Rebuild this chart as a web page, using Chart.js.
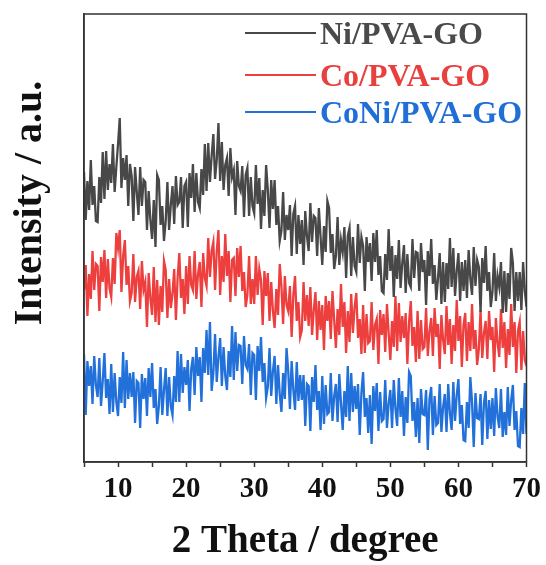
<!DOCTYPE html>
<html>
<head>
<meta charset="utf-8">
<script src="https://cdn.jsdelivr.net/npm/chart.js@4.4.1/dist/chart.umd.min.js"></script>
<style>
  body { margin: 0; background: #fff; }
  #wrap { width: 546px; height: 565px; position: relative; }
</style>
</head>
<body>
<div id="wrap"><canvas id="xrd"></canvas></div>
<script>
// 2 theta grid of the scans
const thetaStart = 5;
const thetaStep = 0.25;
const xTicks = [10, 20, 30, 40, 50, 60, 70];

const seriesNames = ['Ni/PVA-GO', 'Co/PVA-GO', 'CoNi/PVA-GO'];

// intensities (a.u., curves already offset)
const niPvaGo = [
  290,242,281,252, 302,257,276,241, 240,285,259,310, 263,311,272,298, 279,318,270,295,
  318,344,274,304, 282,307,256,298, 286,241,295,270, 247,295,256,282, 280,232,271,242,
  223,262,215,287, 282,237,256,221, 241,280,232,257, 276,238,286,257, 260,285,234,276,
  280,235,289,264, 298,250,289,260, 254,293,267,318, 271,319,280,306, 328,283,302,339,
  281,320,272,297, 304,266,314,285, 292,247,301,276, 271,296,245,287, 294,246,285,256,
  249,297,258,284, 233,272,246,297, 272,234,282,253, 282,237,256,221, 231,270,222,247,
  232,257,206,248, 256,208,247,218, 242,197,251,226, 211,259,220,246, 244,206,254,225,
  197,236,210,261, 254,209,228,193, 206,245,197,222, 210,235,184,226, 234,186,225,196,
  190,238,199,225, 216,171,225,200, 219,181,229,200, 232,187,206,171, 169,208,182,233,
  191,216,165,207, 183,222,174,199, 217,169,208,179, 175,223,184,210, 209,171,219,190,
  202,157,211,186, 223,178,197,162, 184,209,158,200, 160,199,173,224, 175,214,166,191,
  209,161,200,171, 202,164,212,183, 167,215,176,202, 195,150,204,179, 216,171,190,155,
  170,209,161,186, 175,200,149,191, 150,189,163,214, 199,151,190,161, 190,152,200,171,
  155
];
const coPvaGo = [
  172,197,146,188, 163,211,172,198, 196,151,205,180, 212,164,203,174, 165,204,178,229,
  214,232,170,206, 222,177,196,161, 169,208,160,185, 191,153,201,172, 180,135,189,164,
  147,195,140,182, 137,176,150,201, 192,144,183,154, 168,193,142,184, 209,164,183,148,
  196,158,206,177, 172,211,163,188, 200,155,209,184, 176,224,185,211, 220,172,211,232,
  167,206,180,228, 186,211,160,202, 204,166,214,185, 216,171,190,155, 167,206,158,183,
  158,206,167,193, 182,137,191,166, 189,141,180,151, 134,173,147,198, 176,138,186,157,
  151,176,125,167, 186,141,160,125, 132,180,141,167, 136,175,127,152, 170,122,161,132,
  157,112,166,141, 161,123,171,142, 114,153,127,178, 135,160,109,151, 120,168,129,155,
  169,124,143,108, 157,109,148,119, 121,160,112,137, 143,98,152,127, 148,110,158,129,
  102,141,115,166, 111,159,120,146, 124,149,98,140, 161,116,135,100, 151,103,142,113,
  115,154,106,131, 144,106,154,125, 138,93,147,122, 108,156,117,143, 98,137,111,162,
  121,146,95,137, 149,101,140,111, 158,113,132,97, 113,152,104,129, 141,103,151,122,
  135,90,144,119, 105,153,114,140, 94,133,107,158, 115,140,89,131, 140,92,131,102,
  96
];
const coNiPvaGo = [
  108,47,101,76, 96,58,106,77, 65,104,56,81, 109,64,83,48, 98,50,89,60,
  46,85,59,110, 54,102,63,89, 65,90,39,81, 79,34,88,63, 84,46,94,65,
  99,54,73,38, 56,95,47,72, 94,46,85,56, 47,86,60,111, 60,108,69,95,
  77,102,51,93, 105,67,115,86, 105,60,114,89, 132,87,140,71, 89,128,80,105,
  124,76,115,86, 72,111,85,136, 82,130,91,117, 116,78,126,97, 93,118,67,109,
  107,62,116,91, 125,80,99,64, 75,114,66,91, 106,58,97,68, 50,89,63,114,
  91,53,101,72, 52,100,61,87, 62,87,36,78, 76,31,85,60, 97,52,71,32,
  86,38,77,48, 50,89,41,66, 78,40,88,59, 32,71,45,96, 41,89,50,76,
  53,78,27,69, 90,45,64,29, 67,18,76,51, 79,31,70,41, 43,82,34,59,
  72,34,82,53, 36,84,45,71, 26,65,39,90, 86,41,60,25, 64,19,73,48,
  47,72,12,63, 75,27,66,37, 39,78,30,55, 68,30,78,49, 32,80,41,67,
  83,38,57,22, 21,60,34,85, 60,15,69,44, 43,68,17,59, 71,23,62,33,
  64,26,74,45, 34,73,25,50, 27,75,36,62, 77,32,51,16, 15,54,28,79,
  28
];

const lineColors = ['#484848', '#ee3f3f', '#2271db'];
const textColors = ['#4a4a4a', '#e8403e', '#1f6fd6'];
const serif = "'Times New Roman', 'Liberation Serif', serif";

function toPoints(vals) {
  return vals.map((v, i) => ({ x: thetaStart + i * thetaStep, y: v }));
}

// box round the plot
const frame = {
  id: 'frame',
  afterDatasetsDraw(chart) {
    const { ctx, chartArea: a } = chart;
    ctx.save();
    ctx.strokeStyle = '#333';
    ctx.lineWidth = 1.5;
    ctx.strokeRect(a.left, a.top, a.right - a.left, a.bottom - a.top);
    ctx.restore();
  }
};

// legend inside the plot, top right
const insideLegend = {
  id: 'insideLegend',
  afterDraw(chart) {
    const ctx = chart.ctx;
    const rows = [33, 75, 112];
    ctx.save();
    ctx.font = 'bold 32px ' + serif;
    ctx.textBaseline = 'middle';
    chart.data.datasets.forEach((ds, i) => {
      ctx.strokeStyle = ds.borderColor;
      ctx.lineWidth = 2;
      ctx.beginPath();
      ctx.moveTo(245, rows[i]);
      ctx.lineTo(316, rows[i]);
      ctx.stroke();
      ctx.fillStyle = textColors[i];
      ctx.fillText(ds.label, 320, rows[i] + 3);
    });
    ctx.restore();
  }
};

// y title sits above the middle of the axis, so it's drawn here
const yTitle = {
  id: 'yTitle',
  afterDraw(chart) {
    const ctx = chart.ctx;
    ctx.save();
    ctx.translate(41, 203);
    ctx.rotate(-Math.PI / 2);
    ctx.font = 'bold 40px ' + serif;
    ctx.fillStyle = '#111';
    ctx.textAlign = 'center';
    ctx.fillText('Intensity / a.u.', 0, 0);
    ctx.restore();
  }
};

const ctx = document.getElementById('xrd').getContext('2d');
new Chart(ctx, {
  type: 'line',
  data: {
    datasets: [niPvaGo, coPvaGo, coNiPvaGo].map((vals, i) => ({
      label: seriesNames[i],
      data: toPoints(vals),
      borderColor: lineColors[i],
      borderWidth: 2.3,
      pointRadius: 0,
      tension: 0,
      fill: false
    }))
  },
  options: {
    responsive: true,
    maintainAspectRatio: false,
    animation: false,
    layout: { padding: { top: 14, right: 18, left: 0, bottom: 0 } },
    plugins: { legend: { display: false }, tooltip: { enabled: false } },
    scales: {
      x: {
        type: 'linear',
        min: 5,
        max: 70,
        afterFit: s => { s.height = 103; },
        border: { color: '#333', width: 1.5 },
        grid: { drawOnChartArea: false, drawTicks: true, tickLength: 5, tickWidth: 1.5, tickColor: '#333' },
        ticks: {
          stepSize: 5,
          autoSkip: false,
          maxRotation: 0,
          padding: 5,
          color: '#111',
          font: { family: serif, size: 29, weight: 'bold' },
          callback: v => xTicks.includes(v) ? v : ''
        },
        title: {
          display: true,
          text: '2 Theta / degree',
          color: '#111',
          padding: { top: 0, bottom: 0 },
          font: { family: serif, size: 39, weight: 'bold' }
        }
      },
      y: {
        min: 0,
        max: 448,
        afterFit: s => { s.width = 84; },
        border: { color: '#333', width: 1.5 },
        grid: { display: false },
        ticks: { display: false }
      }
    }
  },
  plugins: [frame, insideLegend, yTitle]
});
</script>
</body>
</html>
